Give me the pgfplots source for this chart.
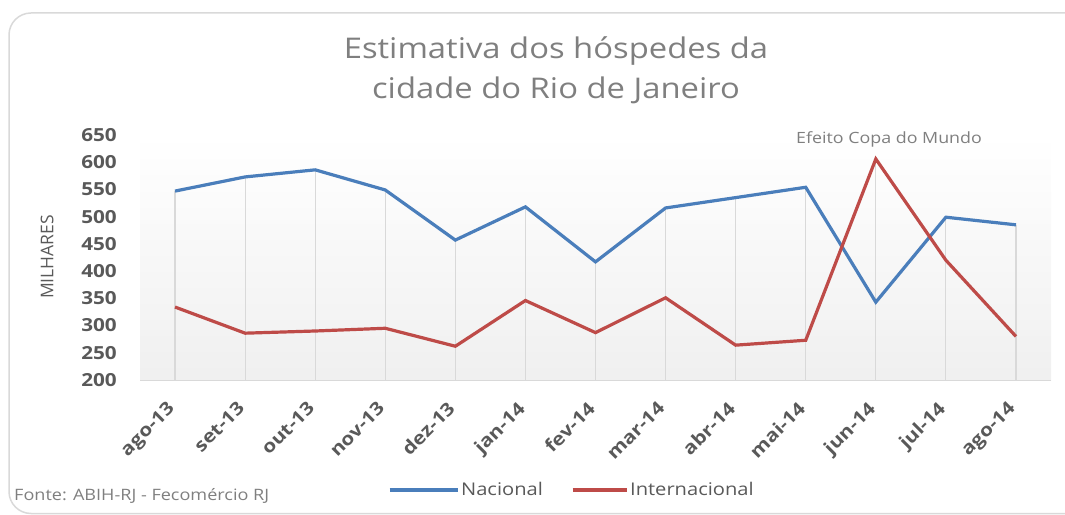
\documentclass[border=0pt]{standalone}
\usepackage{pgfplots}
\usepackage{pgfplotstable}
\pgfplotsset{compat=1.18}
\usepackage{fontspec}
\setmainfont{Open Sans}[FakeStretch=1.15]
\newfontfamily\plainfont{Open Sans}
\definecolor{colNac}{HTML}{4A7EBB}
\definecolor{colInt}{HTML}{BE4B48}
\definecolor{txt}{HTML}{595959}
\definecolor{ttl}{HTML}{7F7F7F}
\definecolor{grd}{HTML}{D9D9D9}

\pgfplotsset{
  legnac/.style={legend image code/.code={\draw[##1] (0pt,0pt) -- (68pt,0pt);}},
  legint/.style={legend image code/.code={\draw[##1] (0pt,0pt) -- (54pt,0pt);}},
}

\pgfplotstableread{
x nac int
0 547 334
1 573 286
2 586 290
3 549 295
4 457 262
5 518 346
6 417 287
7 516 351
8 535 264
9 554 273
10 343 606
11 499 420
12 485 280
}\data

\begin{document}
\begin{tikzpicture}
\useasboundingbox (0,0) rectangle (1065pt,514pt);
\begin{scope}
\clip (0,0) rectangle (1065pt,514pt);
\draw[grd, line width=1.5pt, rounded corners=22pt] (9pt,0.5pt) rectangle (1100pt,501pt);
\end{scope}
\node[rotate=90, font=\plainfont\fontsize{17.5}{20}\selectfont, text=txt] at (47pt,257pt) {MILHARES};
\begin{axis}[at={(140pt,134pt)}, anchor=south west, scale only axis,
  width=911pt, height=245pt,
  xmin=-0.5, xmax=12.5, ymin=200, ymax=650,
  ytick={200,250,...,650},
  xtick={0,...,12},
  xticklabels={ago-13,set-13,out-13,nov-13,dez-13,jan-14,fev-14,mar-14,abr-14,mai-14,jun-14,jul-14,ago-14},
  axis x line*=bottom, axis y line*=left,
  x axis line style={draw=grd, line width=1pt, -},
  y axis line style={draw=none},
  major tick length=0pt,
  axis background/.style={top color=white, bottom color=black!6},
  /pgf/number format/assume math mode=true,
  tick label style={font=\fontsize{18}{20}\selectfont\bfseries, text=txt},
  yticklabel style={anchor=east, inner sep=0pt, xshift=-23pt},
  xticklabel style={rotate=45, anchor=north east, inner sep=0pt, xshift=-20.5pt, yshift=-7.8pt},
  legend columns=2,
  legend style={at={(axis description cs:0.474,-0.449)}, anchor=center, draw=none, fill=none,
    font=\fontsize{17.5}{20}\selectfont, text=txt,
    /tikz/every even column/.append style={column sep=26pt}},
]
\addplot[ycomb, grd, line width=1.2pt, forget plot] table[x=x,y=nac]{\data};
\addplot[ycomb, grd, line width=1.2pt, forget plot] table[x=x,y=int]{\data};
\addplot[colNac, line width=3.2pt, legnac] table[x=x,y=nac]{\data};
\addplot[colInt, line width=3.2pt, legint] table[x=x,y=int]{\data};
\legend{Nacional, Internacional}
\end{axis}
\node[align=center, font=\fontsize{28.5}{40}\selectfont, text=ttl] at (556pt,444pt) {Estimativa dos hóspedes da\\cidade do Rio de Janeiro};
\node[font=\fontsize{15.5}{18}\selectfont, text=ttl] at (889pt,375pt) {Efeito Copa do Mundo};
\node[anchor=base west, font=\fontsize{15.7}{18}\selectfont, text=ttl, inner sep=0pt] at (14pt,14pt) {Fonte: ABIH-RJ - Fecomércio RJ};
\end{tikzpicture}
\end{document}
